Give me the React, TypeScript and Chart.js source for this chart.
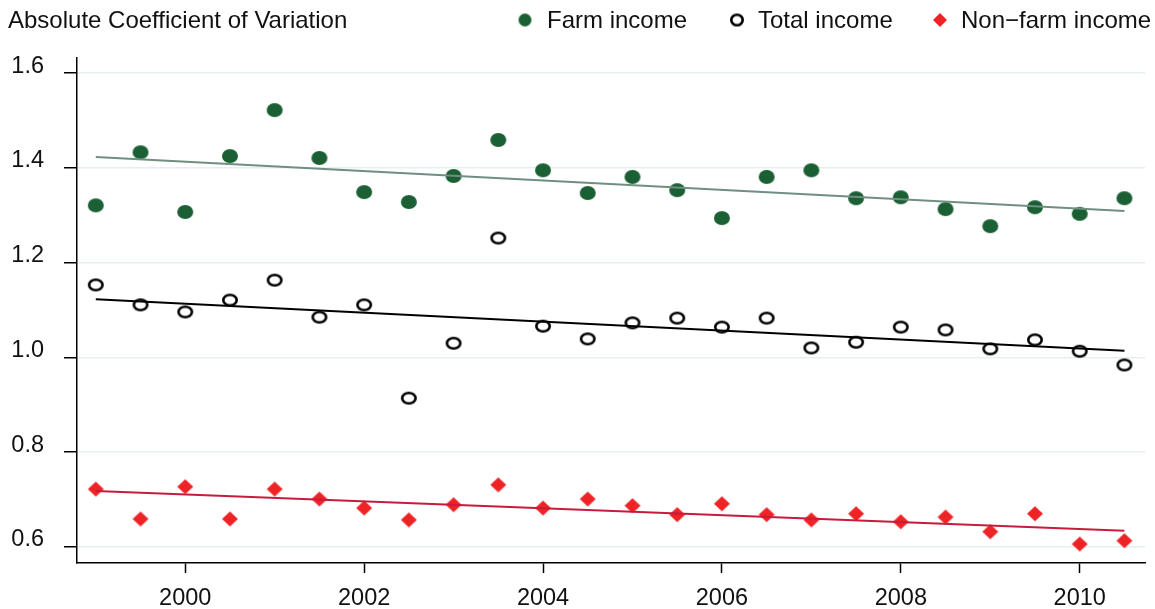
import React, { useEffect, useRef } from "react";
import { Chart, registerables } from "chart.js";

Chart.register(...registerables);

const YEARS = [1999, 1999.5, 2000, 2000.5, 2001, 2001.5, 2002, 2002.5, 2003, 2003.5, 2004, 2004.5, 2005, 2005.5, 2006, 2006.5, 2007, 2007.5, 2008, 2008.5, 2009, 2009.5, 2010, 2010.5];
const FARM = [1.321, 1.433, 1.307, 1.425, 1.522, 1.421, 1.349, 1.328, 1.383, 1.459, 1.395, 1.347, 1.381, 1.353, 1.294, 1.381, 1.395, 1.336, 1.338, 1.313, 1.277, 1.317, 1.303, 1.336];
const TOTAL = [1.153, 1.111, 1.096, 1.121, 1.163, 1.085, 1.111, 0.914, 1.030, 1.252, 1.066, 1.039, 1.073, 1.083, 1.064, 1.083, 1.020, 1.032, 1.064, 1.058, 1.018, 1.037, 1.013, 0.984];
const NONFARM = [0.722, 0.659, 0.727, 0.659, 0.722, 0.701, 0.682, 0.657, 0.689, 0.731, 0.682, 0.701, 0.687, 0.668, 0.691, 0.668, 0.657, 0.670, 0.653, 0.663, 0.632, 0.670, 0.606, 0.613];
// linear fit lines (start at 1999, end at 2010.5)
const FIT_X = [1999, 2010.5];
const FIT_FARM = [1.423, 1.309];
const FIT_TOTAL = [1.123, 1.014];
const FIT_NONFARM = [0.718, 0.634];
const X_TICKS = [2000, 2002, 2004, 2006, 2008, 2010];
const Y_TICKS = [0.6, 0.8, 1.0, 1.2, 1.4, 1.6];
const TITLE = "Absolute Coefficient of Variation";
const LABELS = ["Farm income", "Total income", "Non\u2212farm income"];

const GREEN = "#1b6034";
const GREEN_LINE = "#6f8f80";
const RED = "#ee2326";
const RED_LINE = "#c71b3d";
const FONT = "'Liberation Sans', Arial, Helvetica, sans-serif";

function marker(kind: string, w: number, h: number, color: string) {
  const c = document.createElement("canvas");
  c.width = w + 4;
  c.height = h + 4;
  const g = c.getContext("2d")!;
  const cx = c.width / 2, cy = c.height / 2;
  g.beginPath();
  if (kind === "dot") {
    g.ellipse(cx, cy, w / 2, h / 2, 0, 0, Math.PI * 2);
    g.fillStyle = color;
    g.fill();
  } else if (kind === "ring") {
    g.ellipse(cx, cy, w / 2 - 1.3, h / 2 - 1.3, 0, 0, Math.PI * 2);
    g.lineWidth = 2.6;
    g.strokeStyle = color;
    g.stroke();
  } else {
    g.moveTo(cx, cy - h / 2);
    g.lineTo(cx + w / 2, cy);
    g.lineTo(cx, cy + h / 2);
    g.lineTo(cx - w / 2, cy);
    g.closePath();
    g.fillStyle = color;
    g.fill();
  }
  return c;
}

export default function App() {
  const ref = useRef<HTMLCanvasElement | null>(null);

  useEffect(() => {
    document.body.style.margin = "0";
    const ctx = ref.current!.getContext("2d")!;
    const pts = (xs: number[], ys: number[]) => xs.map((x, i) => ({ x, y: ys[i] }));

    const dotM = marker("dot", 16, 14, GREEN);
    const ringM = marker("ring", 16, 13, "#000");
    const diaM = marker("dia", 16, 15, RED);
    const dotL = marker("dot", 13, 13, GREEN);
    const ringL = marker("ring", 14, 13, "#000");
    const diaL = marker("dia", 14, 14, RED);

    const headerPlugin = {
      id: "header",
      afterDraw(chart: any) {
        const g = chart.ctx;
        g.save();
        g.font = `24px ${FONT}`;
        g.fillStyle = "#111";
        g.textBaseline = "alphabetic";
        g.textAlign = "left";
        g.fillText(TITLE, 8, 28);
        const items = [
          { m: dotL, mx: 525, tx: 547, label: LABELS[0] },
          { m: ringL, mx: 737, tx: 758, label: LABELS[1] },
          { m: diaL, mx: 940, tx: 961, label: LABELS[2] },
        ];
        for (const it of items) {
          g.drawImage(it.m, it.mx - it.m.width / 2, 20 - it.m.height / 2);
          g.fillText(it.label, it.tx, 28);
        }
        g.restore();
      },
    };

    const chart = new Chart(ctx, {
      type: "scatter",
      data: {
        datasets: [
          { type: "line", label: "fit farm", data: pts(FIT_X, FIT_FARM), borderColor: GREEN_LINE, borderWidth: 2, pointRadius: 0, order: 0 },
          { type: "line", label: "fit total", data: pts(FIT_X, FIT_TOTAL), borderColor: "#000", borderWidth: 2, pointRadius: 0, order: 0 },
          { type: "line", label: "fit nonfarm", data: pts(FIT_X, FIT_NONFARM), borderColor: RED_LINE, borderWidth: 2, pointRadius: 0, order: 0 },
          { label: LABELS[0], data: pts(YEARS, FARM), pointStyle: dotM, order: 1 },
          { label: LABELS[1], data: pts(YEARS, TOTAL), pointStyle: ringM, order: 1 },
          { label: LABELS[2], data: pts(YEARS, NONFARM), pointStyle: diaM, order: 1 },
        ] as any,
      },
      options: {
        animation: false,
        responsive: true,
        maintainAspectRatio: false,
        layout: { padding: { top: 58, right: 10, left: 0, bottom: 0 } },
        plugins: { legend: { display: false }, title: { display: false }, tooltip: { enabled: false } },
        scales: {
          x: {
            type: "linear",
            min: 1998.79,
            max: 2010.73,
            afterBuildTicks: (s: any) => { s.ticks = X_TICKS.map((v) => ({ value: v })); },
            afterFit: (s: any) => { s.height = 46; },
            grid: { drawOnChartArea: false, tickLength: 10, tickColor: "#000", tickWidth: 1.5 },
            border: { display: true, color: "#000", width: 1.5 },
            ticks: { color: "#111", font: { family: FONT, size: 23.5 }, padding: 11, maxRotation: 0, callback: (v: any) => String(v) },
          },
          y: {
            min: 0.566,
            max: 1.632,
            afterBuildTicks: (s: any) => { s.ticks = Y_TICKS.map((v) => ({ value: v })); },
            afterFit: (s: any) => { s.width = 77; },
            grid: { color: "#e5eff0", lineWidth: 1.5, tickLength: 13, tickColor: "#000", tickWidth: 1.5 },
            border: { display: true, color: "#000", width: 1.5 },
            ticks: { color: "#111", font: { family: FONT, size: 23.5 }, padding: 20, labelOffset: -7, callback: (v: any) => Number(v).toFixed(1) },
          },
        },
      } as any,
      plugins: [headerPlugin],
    });
    return () => chart.destroy();
  }, []);

  return (
    <div style={{ position: "fixed", left: 0, top: 0, width: 1155, height: 609, background: "#fff" }}>
      <canvas ref={ref} />
    </div>
  );
}
